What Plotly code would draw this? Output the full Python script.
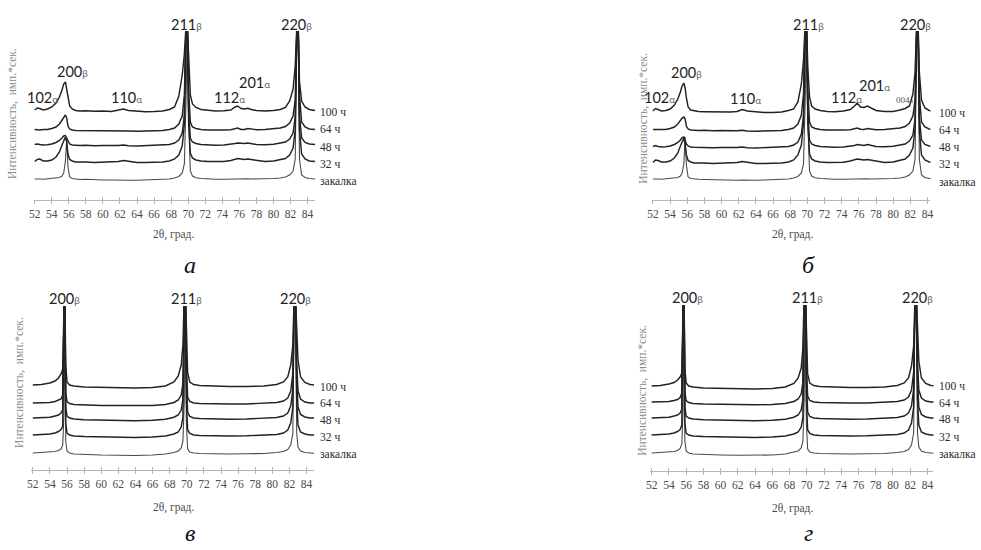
import plotly.graph_objects as go

W, H = 981, 550

SERIES = ["закалка", "32 ч", "48 ч", "64 ч", "100 ч"]
TICKS = [52, 54, 56, 58, 60, 62, 64, 66, 68, 70, 72, 74, 76, 78, 80, 82, 84]
TICK_TEXT = [str(t) for t in TICKS]
X_TITLE = "2θ, град."
Y_TITLE = "Интенсивность,  имп.*сек."
PANEL_LETTERS = ["а", "б", "в", "г"]

# ---- 2θ sample points (degrees) for panels а, б ----
X_AB = [52.0, 52.3, 52.6, 53.0, 53.5, 54.0, 54.5, 54.9, 55.2, 55.4, 55.6, 55.75, 55.9,
        56.1, 56.4, 56.8, 57.3, 58.0, 59.0, 60.0, 61.0, 61.8, 62.4, 63.0, 64.0, 65.0,
        66.0, 67.0, 67.8, 68.4, 68.9, 69.3, 69.55, 69.75, 69.9, 70.05, 70.25, 70.5,
        70.9, 71.5, 72.3, 73.2, 74.2, 75.0, 75.5, 75.8, 76.2, 76.6, 77.0, 77.4, 78.0,
        79.0, 80.0, 80.8, 81.4, 81.9, 82.3, 82.55, 82.75, 82.9, 83.05, 83.3, 83.7,
        84.2, 84.9]

# ---- 2θ sample points (degrees) for panels в, г ----
X_CD = [52.0, 53.0, 54.0, 54.6, 55.0, 55.3, 55.5, 55.65, 55.75, 55.85, 56.0, 56.3,
        56.8, 58.0, 60.0, 62.0, 64.0, 66.0, 67.5, 68.5, 69.0, 69.35, 69.55, 69.7,
        69.85, 69.95, 70.1, 70.35, 70.8, 71.5, 73.0, 75.0, 77.0, 79.0, 80.5, 81.3,
        81.8, 82.15, 82.4, 82.55, 82.7, 82.85, 83.0, 83.3, 83.8, 84.4, 84.9]

# ---- panel а: offsets of each pattern and intensities above its own baseline ----
A_OFFSET = [21, 38, 55, 70, 89]
A_ZAK = [0, 0.3, 0, -0.3, 0, 0.3, 0.8, 1.5, 3, 6, 18, 40, 12, 2, 0.5, 0, -0.5, -0.3,
         -0.8, -1, -1, -1.3, -1, -1.3, -1.2, -1, -0.8, -0.5, 0, 1, 2.5, 6, 15, 80, 155,
         60, 8, 3, 1.2, 0.5, 0, -0.3, -0.3, 0, 0, 0.3, 0, 0, 0.3, 0, 0, 0.2, 0.5, 1, 2,
         4, 8, 20, 155, 155, 20, 4, 1.5, 0.5, 0]
A_32H = [0.5, 2.5, 3, 1, 1, 2, 5, 10, 17, 22, 25, 20, 8, 2.5, 1, 0, -0.3, 0, -0.5,
         -0.3, 0, 0.5, 1.5, 0.5, -0.5, -0.5, -0.3, 0, 1, 3, 7, 16, 38, 135, 135, 40, 9,
         4, 2, 1, 0.5, 0.3, 0.5, 1.5, 3, 3.5, 3, 2.5, 3, 2.5, 1, 0.5, 1, 2, 3.5, 7, 14,
         32, 135, 135, 32, 8, 3, 1, 0.5]
A_48H = [0.5, 1, 0.5, 0, 0.3, 1, 2.5, 4.5, 7, 9, 9.5, 7, 3, 1, 0, -0.3, -0.5, -0.3,
         -0.8, -0.5, -0.8, -0.5, 0, -0.8, -1, -0.8, -0.6, -0.3, 0.5, 2, 5, 12, 30, 120,
         120, 35, 7, 3, 1.5, 0.5, 0, -0.3, 0, 0.5, 1.5, 2, 1.5, 1.5, 2, 1.5, 0.5, 0.3,
         0.8, 2, 3, 6, 12, 28, 120, 120, 30, 7, 2.5, 1, 0.5]
A_64H = [0.5, 0.3, 0, 0.5, 0.5, 1.5, 3, 6, 10, 13, 15, 12, 4, 1, 0, -0.5, -0.5, -0.3,
         -0.8, -0.5, -1, -0.8, -0.3, -1, -1.2, -1, -0.8, -0.5, 0.5, 2, 6, 14, 35, 105,
         105, 40, 8, 3, 1.5, 0.5, 0, -0.3, 0, 0.3, 1, 2, 0.5, 0.5, 1.5, 0.8, 0.3, 0.5, 1,
         2, 3.5, 7, 14, 30, 105, 105, 35, 8, 3, 1, 0.5]
A_100H = [1, 3, 2.5, 1, 2, 4, 8, 14, 21, 27, 29, 22, 13, 5, 2, 0.5, 0, 0.3, -0.3, 0,
          -0.5, 0.5, 2, 0.5, -0.5, -0.8, -0.5, 0, 1.5, 4, 15, 36, 57, 86, 86, 47, 16, 7,
          3.5, 1.5, 0.5, 0, 0.3, 1, 4, 5, 2.5, 2, 2.8, 1.5, 0.5, 0, 0.5, 1.5, 3.5, 10,
          22, 45, 86, 86, 30, 10, 4, 1.5, 0.5]

# ---- panel б ----
B_OFFSET = [21, 37, 53, 70, 88]
B_ZAK = [0, 0.3, 0, -0.3, 0, 0.3, 0.8, 1.5, 3, 6, 15, 42, 14, 2, 0.5, 0, -0.3, -0.5,
         -0.8, -1, -1.2, -1.3, -1, -1.3, -1.2, -1, -0.8, -0.5, 0, 1, 2.5, 6, 15, 80, 155,
         60, 8, 3, 1.2, 0.5, 0, -0.3, -0.3, 0, 0, 0.3, 0, 0, 0.3, 0, 0, 0.2, 0.5, 1, 2,
         4, 8, 20, 155, 155, 20, 4, 1.5, 0.5, 0]
B_32H = [0.5, 3, 2.5, 1, 1, 2, 5, 10, 17, 22, 25, 19, 8, 2.5, 1, 0, -0.3, 0, -0.5,
         -0.3, 0, 0.5, 1.5, 0.5, -0.5, -0.5, -0.3, 0, 1, 3, 8, 18, 40, 135, 135, 40, 9,
         4, 2, 1, 0.5, 0.3, 0.8, 2, 3.5, 4, 3.5, 3, 3.5, 3, 1.5, 0.5, 1, 2.5, 4, 8, 15,
         35, 135, 135, 32, 8, 3, 1, 0.5]
B_48H = [0.5, 1.5, 0.5, 0, 0.3, 1, 2.5, 4.5, 7, 9.5, 10, 7, 3, 1, 0, -0.3, -0.5, -0.3,
         -0.8, -0.5, -0.8, -0.5, 0, -0.8, -1, -0.8, -0.6, -0.3, 0.5, 2, 5, 13, 32, 120,
         120, 35, 7, 3, 1.5, 0.5, 0, -0.3, 0, 0.5, 1.5, 2.5, 2, 1.5, 2.5, 1.5, 0.5, 0.3,
         0.8, 2, 3, 6, 12, 28, 120, 120, 30, 7, 2.5, 1, 0.5]
B_64H = [0.5, 0.5, 0, 0.5, 0.5, 1.5, 3, 6, 10, 12, 13, 11, 4, 1, 0, -0.5, -0.5, -0.3,
         -0.8, -0.5, -1, -0.8, -0.3, -1, -1.2, -1, -0.8, -0.5, 0.5, 2, 6, 15, 36, 105,
         105, 40, 8, 3, 1.5, 0.5, 0, -0.3, 0, 0.3, 1, 2, 0.8, 0.5, 1.5, 0.8, 0.3, 0.5, 1,
         2, 3.5, 7, 14, 30, 105, 105, 35, 8, 3, 1, 0.5]
B_100H = [1, 3.5, 2.5, 1, 1.5, 3, 7, 13, 20, 26, 29, 24, 14, 5, 2, 1, 0.5, 0.3, 0,
          -0.3, 0, 0.5, 2.5, 1, 0, -0.5, -0.5, 0, 1.5, 3, 10, 28, 52, 90, 90, 45, 15, 6,
          3, 1.5, 0.5, 0.3, 1, 2.5, 6, 9, 5, 4.5, 6, 4, 1.5, 0.5, 0.5, 2, 3.5, 6, 18,
          40, 90, 90, 40, 12, 4, 1.5, 0.5]

# ---- panel в ----
C_OFFSET = [17, 35, 52, 67, 85]
C_ZAK = [0, 0.3, 0.8, 1.5, 2.5, 4, 8, 40, 155, 12, 2, 0, -1, -1.5, -2, -2.2, -2.5, -2,
         -1, 0.5, 2, 5, 12, 50, 155, 30, 4, 1, 0, -0.5, -1, -1, -0.8, -0.5, 0.5, 1.5,
         3.5, 8, 20, 155, 155, 20, 6, 2, 0.5, 0, -0.3]
C_32H = [0, 0.3, 1, 2, 3.5, 5.5, 9, 135, 135, 12, 2, 0, -1, -1.5, -2, -2, -2.5, -2, -1,
         1, 3, 8, 18, 135, 135, 35, 5, 1.5, 0, -0.5, -0.8, -1, -0.8, -0.3, 0.5, 2, 5,
         12, 28, 135, 135, 35, 10, 3, 1, 0, 0]
C_48H = [0, 0.3, 0.8, 2, 3, 5, 8.5, 120, 120, 11, 1.8, 0, -1, -1.8, -2.2, -2.5, -2.8,
         -2.2, -1.2, 0.8, 3, 8, 19, 120, 120, 38, 6, 1.5, 0, -0.5, -1, -1.2, -1, -0.5,
         0.5, 2, 5, 12, 29, 120, 120, 38, 11, 3.5, 1, 0, 0]
C_64H = [0, 0, 0.5, 1.5, 2.5, 4, 8, 110, 110, 10, 1.5, -0.5, -1.5, -2, -2.5, -2.5, -2.8,
         -2.5, -1.5, 0.5, 3, 8, 20, 110, 110, 40, 6, 1.5, 0, -0.5, -1, -1, -1, -0.5, 0.5,
         2, 5, 12, 30, 110, 110, 40, 12, 4, 1, 0, 0]
C_100H = [0, 0.5, 2, 4, 7, 11, 16, 90, 90, 20, 3, 0, -1, -2, -2.5, -3, -3, -2.5, -1, 3,
          9, 20, 40, 90, 90, 60, 12, 3, 0.5, -0.5, -1, -1.5, -1.5, -1, 0.5, 3, 8, 20,
          40, 90, 90, 60, 25, 8, 2.5, 0.5, 0]

# ---- panel г ----
D_OFFSET = [18, 36, 53, 69, 85]
D_ZAK = [0, 0.3, 0.8, 1.5, 2.5, 4.5, 9, 45, 160, 12, 2, 0, -1, -1.5, -2, -2.3, -2.5,
         -2, -1, 0.5, 2, 5, 12, 55, 160, 30, 4, 1, 0, -0.5, -1, -1, -0.8, -0.5, 0.5, 1.5,
         3.5, 8, 20, 160, 160, 20, 6, 2, 0.5, 0, -0.3]
D_32H = [0, 0.3, 1, 2, 3.5, 5.5, 10, 140, 140, 12, 2, 0, -1, -1.5, -2, -2.2, -2.5, -2,
         -1, 1, 3, 8, 18, 140, 140, 35, 5, 1.5, 0, -0.5, -0.8, -1, -0.8, -0.3, 0.5, 2, 5,
         12, 28, 140, 140, 35, 10, 3, 1, 0, 0]
D_48H = [0, 0.3, 0.8, 2, 3, 5, 9, 125, 125, 11, 1.8, 0, -1, -1.8, -2.2, -2.5, -2.8,
         -2.2, -1.2, 0.8, 3, 8, 19, 125, 125, 38, 6, 1.5, 0, -0.5, -1, -1.2, -1, -0.5,
         0.5, 2, 5, 12, 29, 125, 125, 38, 11, 3.5, 1, 0, 0]
D_64H = [0, 0, 0.5, 1.5, 2.5, 4.5, 9, 110, 110, 10, 1.5, -0.5, -1.5, -2, -2.5, -2.5,
         -2.8, -2.5, -1.5, 0.5, 3, 8, 20, 110, 110, 40, 6, 1.5, 0, -0.5, -1, -1, -1,
         -0.5, 0.5, 2, 5, 12, 30, 110, 110, 40, 12, 4, 1, 0, 0]
D_100H = [0, 0.5, 2, 3.5, 6, 9, 13, 95, 95, 18, 3, 0, -1, -2, -2.5, -3, -3, -2.5, -1,
          2.5, 8, 18, 38, 95, 95, 60, 12, 3, 0.5, -0.5, -1, -1.5, -1.5, -1, 0.5, 3, 8,
          20, 40, 95, 95, 60, 25, 8, 2.5, 0.5, 0]

# ---- peak labels (text) ----
AB_PEAKS_A = ["102", "200", "110", "211", "112", "201", "220"]
AB_PEAKS_PHASE = ["α", "β", "α", "β", "α", "α", "β"]
B_EXTRA_PEAK = ("004", "α")
CD_PEAKS = ["200", "211", "220"]
CD_PHASE = ["β", "β", "β"]

# ---------------- layout (pixel geometry) ----------------
SERIF = "Liberation Serif, Times New Roman, serif"
SANS = "Lato, Noto Sans, sans-serif"

panels = [
    dict(x=X_AB, offs=A_OFFSET, data=[A_ZAK, A_32H, A_48H, A_64H, A_100H],
         px=(29.1, 312.8), py=(31, 200), xr=(51.9, 84.9), yr=(0, 169),
         peak_pos=[(38, 97), (68, 72), (122, 97), (183, 24), (226, 97), (252, 83), (294, 24)],
         peak_txt=list(zip(AB_PEAKS_A, AB_PEAKS_PHASE)),
         lab_x=316, lab_y=[181, 164, 147, 129, 112],
         ytitle=(7, 113), xtitle=(170, 234), letter=(187, 265)),
    dict(x=X_AB, offs=B_OFFSET, data=[B_ZAK, B_32H, B_48H, B_64H, B_100H],
         px=(652.4, 933.1), py=(31, 200), xr=(51.9, 84.35), yr=(0, 169),
         peak_pos=[(660, 97), (687, 73), (747, 98), (810, 25), (848, 97), (877, 85), (918, 25)],
         peak_txt=list(zip(AB_PEAKS_A, AB_PEAKS_PHASE)),
         lab_x=940, lab_y=[182, 164, 147, 130, 113],
         ytitle=(643, 118), xtitle=(794, 234), letter=(810, 265)),
    dict(x=X_CD, offs=C_OFFSET, data=[C_ZAK, C_32H, C_48H, C_64H, C_100H],
         px=(26.3, 311.8), py=(306, 470), xr=(51.8, 84.9), yr=(0, 164),
         peak_pos=[(60, 298), (183, 298), (293, 298)],
         peak_txt=list(zip(CD_PEAKS, CD_PHASE)),
         lab_x=316, lab_y=[454, 437, 420, 403, 387],
         ytitle=(14, 382), xtitle=(170, 507), letter=(187, 533)),
    dict(x=X_CD, offs=D_OFFSET, data=[D_ZAK, D_32H, D_48H, D_64H, D_100H],
         px=(650.7, 936.1), py=(305, 471), xr=(51.85, 84.7), yr=(0, 166),
         peak_pos=[(688, 297), (809, 297), (920, 297)],
         peak_txt=list(zip(CD_PEAKS, CD_PHASE)),
         lab_x=940, lab_y=[454, 437, 419, 403, 386],
         ytitle=(642, 390), xtitle=(794, 508), letter=(810, 533)),
]


def fx(p):
    return p / W


def fy(p):
    return 1 - p / H


fig = go.Figure()
annotations = []
layout_axes = {}

for i, P in enumerate(panels):
    n = i + 1
    xa = "x" if n == 1 else f"x{n}"
    ya = "y" if n == 1 else f"y{n}"
    ov = f"x{n + 4}"
    for k, (name, vals) in enumerate(zip(SERIES, P["data"])):
        yv = [P["offs"][k] + v for v in vals]
        fig.add_trace(go.Scatter(
            x=P["x"], y=yv, mode="lines", name=name, showlegend=False,
            line=dict(color="#4a4a4a" if k == 0 else "#222222",
                      width=1.1 if k == 0 else 1.45),
            xaxis=xa, yaxis=ya, hoverinfo="skip"))
    # invisible trace so the overlay axis (upper half of crossing ticks) is drawn
    fig.add_trace(go.Scatter(x=[P["xr"][0]], y=[-10], mode="markers",
                             marker=dict(opacity=0), showlegend=False,
                             xaxis=ov, yaxis=ya, hoverinfo="skip"))
    dom_x = [fx(P["px"][0]), fx(P["px"][1])]
    dom_y = [fy(P["py"][1]), fy(P["py"][0])]
    layout_axes[("xaxis" if n == 1 else f"xaxis{n}")] = dict(
        domain=dom_x, range=list(P["xr"]), anchor=ya, showgrid=False, zeroline=False,
        showline=True, linecolor="#b5b5b5", linewidth=1, ticks="outside", ticklen=3,
        tickcolor="#b5b5b5", tickvals=TICKS, ticktext=TICK_TEXT,
        tickfont=dict(family=SERIF, size=11.5, color="#4a4a4a"), fixedrange=True)
    layout_axes[f"xaxis{n + 4}"] = dict(
        overlaying=xa, anchor=ya, range=list(P["xr"]), showgrid=False, zeroline=False,
        showline=False, ticks="inside", ticklen=3, tickcolor="#b5b5b5",
        tickvals=TICKS, showticklabels=False, fixedrange=True)
    layout_axes[("yaxis" if n == 1 else f"yaxis{n}")] = dict(
        domain=dom_y, range=list(P["yr"]), anchor=xa, visible=False, fixedrange=True)

    # peak labels
    for (num, ph), (lx, ly) in zip(P["peak_txt"], P["peak_pos"]):
        annotations.append(dict(
            x=fx(lx), y=fy(ly), xref="paper", yref="paper", showarrow=False,
            xanchor="center", yanchor="middle",
            text=f"{num}<span style='font-size:10px;fill:#666'>{ph}</span>",
            font=dict(family=SANS, size=14.5, color="#222")))
    if i == 1:
        annotations.append(dict(
            x=fx(907), y=fy(100), xref="paper", yref="paper", showarrow=False,
            xanchor="center", yanchor="middle",
            text=f"{B_EXTRA_PEAK[0]}<span style='font-size:7px'>{B_EXTRA_PEAK[1]}</span>",
            font=dict(family=SERIF, size=9, color="#555")))
    # series labels
    for name, ly in zip(SERIES, P["lab_y"]):
        annotations.append(dict(
            x=fx(P["lab_x"]), y=fy(ly), xref="paper", yref="paper", showarrow=False,
            xanchor="left", yanchor="middle", text=name,
            font=dict(family=SERIF, size=11.5, color="#2a2a2a")))
    # y title
    annotations.append(dict(
        x=fx(P["ytitle"][0]), y=fy(P["ytitle"][1]), xref="paper", yref="paper",
        showarrow=False, xanchor="center", yanchor="middle", textangle=-90,
        text=Y_TITLE, font=dict(family=SERIF, size=11.5, color="#8a8a8a")))
    # x title
    annotations.append(dict(
        x=fx(P["xtitle"][0]), y=fy(P["xtitle"][1]), xref="paper", yref="paper",
        showarrow=False, xanchor="center", yanchor="middle", text=X_TITLE,
        font=dict(family=SERIF, size=11.5, color="#4a4a4a")))
    # panel letter
    annotations.append(dict(
        x=fx(P["letter"][0]), y=fy(P["letter"][1]), xref="paper", yref="paper",
        showarrow=False, xanchor="center", yanchor="middle",
        text=f"<i>{PANEL_LETTERS[i]}</i>",
        font=dict(family=SERIF, size=24, color="#111")))

fig.update_layout(
    width=W, height=H, margin=dict(l=0, r=0, t=0, b=0),
    paper_bgcolor="white", plot_bgcolor="white", showlegend=False,
    annotations=annotations, **layout_axes)

fig.write_html(
    "out.html", config={"displayModeBar": False},
    post_script="document.body.style.margin='0';document.body.style.overflow='hidden';")
